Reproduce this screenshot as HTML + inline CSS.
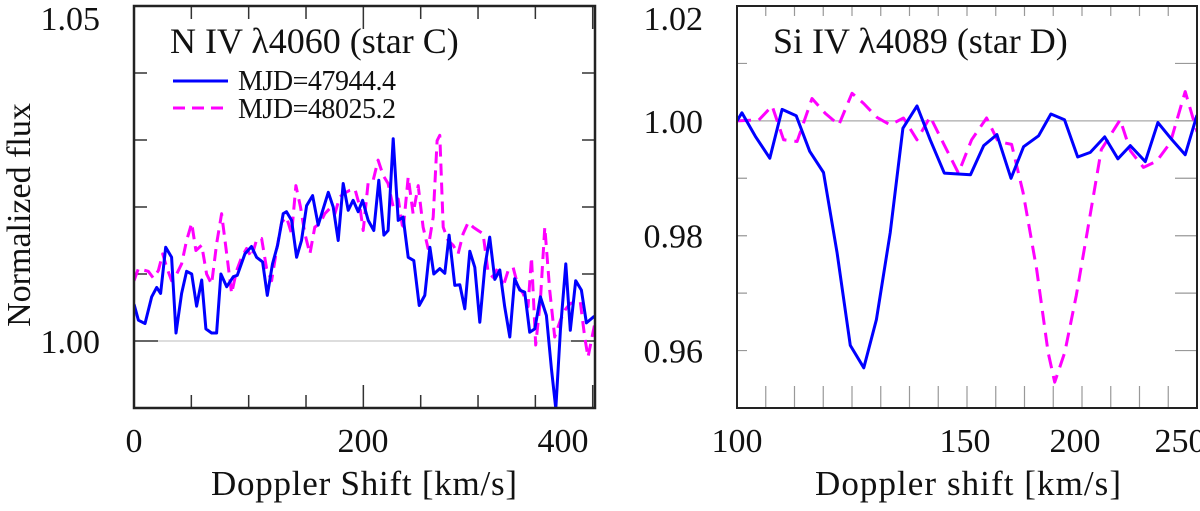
<!DOCTYPE html>
<html><head><meta charset="utf-8">
<style>
body{margin:0;background:#fff;width:1200px;height:506px;overflow:hidden}
svg text{font-family:"Liberation Serif","DejaVu Serif",serif;fill:#111}
</style></head>
<body>
<svg id="chart" width="1200" height="506" viewBox="0 0 1200 506" xmlns="http://www.w3.org/2000/svg" font-family="Liberation Serif, DejaVu Serif, serif">
<g id="L"></g>
<g id="R"></g>
<text x="30" y="215" font-size="34" text-anchor="middle" font-family="Liberation Serif, serif" transform="rotate(-90 30 215)">Normalized flux</text>
<text x="364" y="495" font-size="35" text-anchor="middle" font-family="Liberation Serif, serif" textLength="306">Doppler Shift [km/s]</text>
<text x="968" y="495" font-size="35" text-anchor="middle" font-family="Liberation Serif, serif" textLength="306">Doppler shift [km/s]</text>
<text x="170" y="53" font-size="36" font-family="Liberation Serif, serif">N IV λ4060 (star C)</text>
<text x="773" y="53" font-size="36" font-family="Liberation Serif, serif">Si IV λ4089 (star D)</text>
<line x1="173" y1="81" x2="228" y2="81" stroke="#0000ff" stroke-width="3"/>
<text x="238" y="90" font-size="28" font-family="Liberation Serif, serif" textLength="158">MJD=47944.4</text>
<line x1="173" y1="108" x2="228" y2="108" stroke="#ff00ff" stroke-width="3" stroke-dasharray="12,7"/>
<text x="238" y="118" font-size="28" font-family="Liberation Serif, serif" textLength="158">MJD=48025.2</text>
</svg>
<script>
const leftBlueX=[0,3.8,9.6,15.4,19.8,23.2,27.6,32.8,36.6,41.5,45.9,50.3,54.6,59.0,62.7,67.7,72.0,75.8,80.8,86.6,90.1,96.7,102.5,106.9,112.1,116.2,120.8,125.2,130.1,133.0,137.4,141.8,146.1,150.5,155.7,160.6,169.4,173.7,178.1,182.4,186.8,191.1,195.5,199.3,204.2,209.1,213.5,217.9,221.6,226.0,230.4,234.7,239.1,244.0,248.7,253.6,258.0,261.4,266.7,271.0,274.8,279.7,284.1,288.5,292.8,297.2,301.5,305.9,310.2,314.6,319.0,323.3,327.7,332.0,336.4,340.7,345.1,349.5,354.4,359.6,364.0,367.8,371.8,376.5,380.5,385.2,390.1,394.5,401.5];
const leftBlueY=[1.0055,1.0031,1.0026,1.0066,1.0080,1.0071,1.0140,1.0125,1.0012,1.0071,1.0104,1.0100,1.0052,1.0091,1.0018,1.0012,1.0012,1.0100,1.0081,1.0096,1.0098,1.0130,1.0141,1.0125,1.0118,1.0068,1.0115,1.0143,1.0190,1.0193,1.0180,1.0125,1.0150,1.0202,1.0217,1.0173,1.0222,1.0200,1.0150,1.0235,1.0195,1.0210,1.0193,1.0210,1.0180,1.0165,1.0240,1.0158,1.0165,1.0302,1.0180,1.0185,1.0125,1.0120,1.0053,1.0068,1.0140,1.0100,1.0108,1.0101,1.0158,1.0083,1.0084,1.0048,1.0134,1.0110,1.0028,1.0110,1.0155,1.0092,1.0106,1.0051,1.0006,1.0093,1.0076,1.0073,1.0013,1.0018,1.0066,1.0038,0.9959,0.9899,1.0016,1.0115,1.0016,1.0090,1.0076,1.0027,1.0037];
const leftMagX=[0,3.8,8.1,12.5,16.8,21.2,25.0,28.5,32.8,37.2,41.5,45.9,50.3,54.0,59.0,63.3,67.7,72.0,76.4,80.8,85.1,89.5,93.8,98.2,102.5,106.9,111.3,115.6,120.0,124.3,128.7,133.0,137.4,141.2,145.2,149.0,153.4,157.7,162.1,166.4,170.8,175.2,179.5,183.9,188.2,192.6,197.0,199.9,204.2,208.6,212.9,217.3,221.6,226.0,230.4,234.7,239.1,243.4,247.8,252.1,256.5,260.9,264.3,266.7,269.6,273.9,278.3,282.6,287.0,291.4,295.7,300.1,304.4,308.8,313.1,317.5,321.9,326.2,330.6,334.9,339.3,343.6,346.6,350.3,354.4,358.2,362.5,366.9,371.8,376.5,380.5,385.2,389.2,393.0,395.9,401.5];
const leftMagY=[1.0090,1.0108,1.0106,1.0104,1.0094,1.0105,1.0130,1.0110,1.0090,1.0100,1.0115,1.0150,1.0176,1.0135,1.0143,1.0100,1.0085,1.0145,1.0190,1.0130,1.0071,1.0105,1.0125,1.0138,1.0125,1.0151,1.0153,1.0108,1.0090,1.0135,1.0177,1.0185,1.0160,1.0232,1.0200,1.0160,1.0130,1.0170,1.0175,1.0190,1.0198,1.0190,1.0215,1.0221,1.0225,1.0227,1.0200,1.0165,1.0237,1.0240,1.0270,1.0247,1.0235,1.0200,1.0212,1.0165,1.0245,1.0190,1.0232,1.0170,1.0138,1.0185,1.0299,1.0307,1.0170,1.0150,1.0143,1.0130,1.0160,1.0177,1.0170,1.0165,1.0160,1.0103,1.0095,1.0110,1.0081,1.0105,1.0110,1.0081,1.0071,1.0051,1.0125,0.9994,1.0061,1.0170,1.0076,1.0006,1.0031,1.0048,1.0056,1.0058,1.0058,1.0006,0.9976,1.0023];
const rightBlueX=[100,101.7,106.4,111.4,115.7,120.6,125.3,130.1,134.8,139.4,144.1,148.5,153.3,157.7,162.6,167.2,172.1,181.2,185.8,190.4,195.3,199.7,204.9,209.2,213.9,218.5,222.9,227.9,232.5,236.8,242.0,246.4,251.3,255.9,260];
const rightBlueY=[1.0,1.0014,0.9973,0.9935,1.002,1.0009,0.9947,0.991,0.977,0.9609,0.957,0.9654,0.9805,0.9987,1.0026,0.9967,0.9909,0.9906,0.9957,0.9976,0.99,0.9955,0.9974,1.0012,1.0002,0.9937,0.9945,0.9972,0.9934,0.9957,0.9929,0.9997,0.9967,0.9941,1.001];
const rightMagX=[100,104.6,107.5,112.2,116.2,120.9,126.1,130.7,135.4,140,144.1,148.7,153.3,157.9,162.6,167.2,171.8,177,181.6,186.8,190.8,195.5,199.5,204.2,208.2,210.5,214,218,222,226.7,233.3,236.8,241.4,246,250.7,255.9,260];
const rightMagY=[1,1.0001,1.0001,1.0026,0.9967,0.9964,1.0039,1.0013,0.9993,1.0048,1.003,1.0006,0.9993,1.0005,0.9967,1.0007,0.9961,0.9909,0.9967,1.0005,0.9964,0.9959,0.9875,0.9742,0.9597,0.9545,0.9597,0.9696,0.9812,0.995,1.0002,0.9948,0.9919,0.993,0.9962,1.0051,0.9981];
const leftYTicks=["1.05","1.00"];
const leftYTickVals=[1.05,1.00];
const leftXTicks=["0","200","400"];
const rightYTicks=["1.02","1.00","0.98","0.96"];
const rightYTickVals=[1.02,1.00,0.98,0.96];
const rightXTicks=["100","150","200","250"];

const NS="http://www.w3.org/2000/svg";
const SERIF="Liberation Serif, DejaVu Serif, serif";
function mk(parent,tag,attrs){const e=document.createElementNS(NS,tag);for(const k in attrs)e.setAttribute(k,attrs[k]);parent.appendChild(e);return e;}
function panel(x0,x1,y0,y1,xd,yd){
  const sx=v=>x0+(v-xd[0])/(xd[1]-xd[0])*(x1-x0);
  const sy=v=>y1-(v-yd[0])/(yd[1]-yd[0])*(y1-y0);
  return {sx,sy};
}
function series(g,X,Y,p,color,dash,name){
  const d=X.map((x,i)=>(i?'L':'M')+p.sx(x).toFixed(1)+' '+p.sy(Y[i]).toFixed(1)).join('');
  const e=mk(g,'path',{d,stroke:color,'stroke-width':3,fill:'none','stroke-linejoin':'round'});
  if(dash)e.setAttribute('stroke-dasharray',dash);
  
  
}
// LEFT
const L=document.getElementById('L');
const lp=panel(134,595,6,408,[0,402],[0.99,1.05]);
let ln=mk(L,'line',{x1:134,x2:595,y1:lp.sy(1.0),y2:lp.sy(1.0),stroke:'#bbb','stroke-width':1});


for(let v=0.99;v<=1.0501;v+=0.01){const y=lp.sy(v);const major=Math.abs(v-1.0)<1e-6||Math.abs(v-1.05)<1e-6;const len=major?24:13;
  const t=mk(L,'path',{d:`M134 ${y}h${len}M595 ${y}h${-len}`,stroke:'#333','stroke-width':1.5,fill:'none'});
  
  }
for(let v=0;v<=400;v+=50){const x=lp.sx(v);const len=(v%200===0)?23:13;
  const t=mk(L,'path',{d:`M${x} 408v${-len}M${x} 6v${len}`,stroke:'#333','stroke-width':1.5,fill:'none'});
  
  }
const clipL=mk(L,'clipPath',{id:'cl'});mk(clipL,'rect',{x:134,y:6,width:461,height:402});
const gL=mk(L,'g',{'clip-path':'url(#cl)'});
series(gL,leftMagX,leftMagY,lp,'#ff00ff','12,7','left-series-48025');
series(gL,leftBlueX,leftBlueY,lp,'#0000ff',null,'left-series-47944');
let fr=mk(L,'rect',{x:134,y:6,width:461,height:402,fill:'none',stroke:'#222','stroke-width':2.5});


leftYTicks.forEach((s,i)=>{const t=mk(L,'text',{x:100,y:lp.sy(leftYTickVals[i])+(i===0?24:12),'font-size':34,'text-anchor':'end','font-family':SERIF});t.textContent=s;
  
  });
const leftXLabelPos=[134,363,563];
leftXTicks.forEach((s,i)=>{const t=mk(L,'text',{x:leftXLabelPos[i],y:452,'font-size':34,'text-anchor':'middle','font-family':SERIF});t.textContent=s;
  
  });
// RIGHT
const R=document.getElementById('R');
const rp=panel(737,1197,6,408,[100,260],[0.95,1.02]);
ln=mk(R,'line',{x1:737,x2:1197,y1:rp.sy(1.0),y2:rp.sy(1.0),stroke:'#aaa','stroke-width':1.2});


for(let v=0.95;v<=1.0201;v+=0.01){const y=rp.sy(v);
  const t=mk(R,'path',{d:`M737 ${y}h10M1197 ${y}h-22`,stroke:'#999','stroke-width':1.2,fill:'none'});
  
  }
for(let v=110;v<260;v+=10){const x=rp.sx(v);
  const t=mk(R,'path',{d:`M${x} 408v-22M${x} 6v10`,stroke:'#999','stroke-width':1.2,fill:'none'});
  
  }
const clipR=mk(R,'clipPath',{id:'cr'});mk(clipR,'rect',{x:737,y:6,width:460,height:402});
const gR=mk(R,'g',{'clip-path':'url(#cr)'});
series(gR,rightMagX,rightMagY,rp,'#ff00ff','14,8','right-series-magenta');
series(gR,rightBlueX,rightBlueY,rp,'#0000ff',null,'right-series-blue');
fr=mk(R,'rect',{x:737,y:6,width:460,height:402,fill:'none',stroke:'#222','stroke-width':2});


rightYTicks.forEach((s,i)=>{const t=mk(R,'text',{x:703,y:rp.sy(rightYTickVals[i])+(i===0?24:12),'font-size':34,'text-anchor':'end','font-family':SERIF});t.textContent=s;
  
  });
const rightXLabelPos=[737,965,1075,1180];
rightXTicks.forEach((s,i)=>{const t=mk(R,'text',{x:rightXLabelPos[i],y:452,'font-size':34,'text-anchor':'middle','font-family':SERIF});t.textContent=s;
  
  });
</script>
</body></html>
